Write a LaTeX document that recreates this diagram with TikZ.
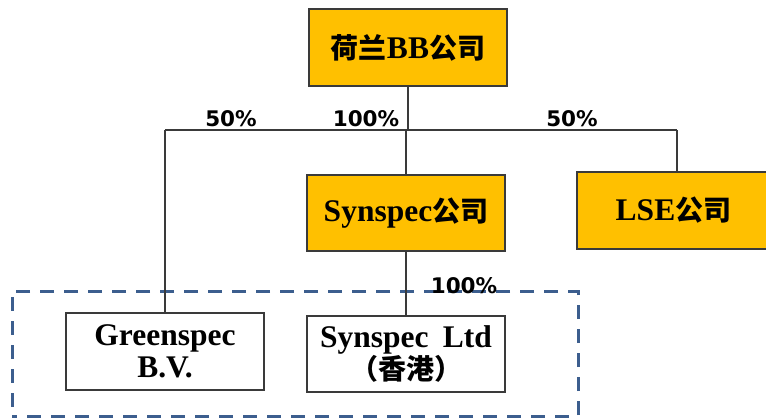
\documentclass[tikz,border=0pt]{standalone}
\usepackage{fontspec}
\setmainfont{Liberation Serif}
\newfontfamily\cjk{Noto Sans CJK SC}
\newfontfamily\pctfont{DejaVu Sans}
\definecolor{gold}{HTML}{FFC000}
\definecolor{dashblue}{HTML}{3C5E8E}
\definecolor{linegray}{HTML}{3A3A3A}
\newcommand{\zh}[1]{{\cjk\fontsize{28}{32}\selectfont #1}}
\begin{document}
\begin{tikzpicture}[x=1pt,y=-1pt,
  org/.style={draw=linegray, line width=1.2pt, minimum width=198pt, minimum height=77pt, inner sep=0pt, align=center, font=\fontsize{31.5}{32}\selectfont\bfseries},
  goldbox/.style={org, fill=gold},
  whitebox/.style={org, fill=white},
  link/.style={draw=linegray, line width=1.2pt},
  grpbox/.style={draw=dashblue, line width=3pt, dash pattern=on 14pt off 10pt, dash phase=9pt, minimum width=566pt, minimum height=125pt, inner sep=0pt},
  pct/.style={font=\pctfont\bfseries\fontsize{21.5}{24}\selectfont, inner sep=0pt, anchor=base}]
\useasboundingbox (0,0) rectangle (766,418);
\node[grpbox] (grp) at (295,353.5) {};
\node[goldbox] (bb) at (408,47.5) {\zh{荷兰}BB\zh{公司}};
\node[goldbox, minimum height=76pt] (syn) at (406,213) {Synspec\zh{公司}};
\node[goldbox, minimum width=193pt] (lse) at (673.5,210.5) {LSE\zh{公司}};
\node[whitebox] (green) at (165,351.5) {Greenspec\\B.V.};
\node[whitebox, minimum height=76pt] (synltd) at (406,354) {Synspec\hspace{0.45em}Ltd\\\zh{（香港）}};
\coordinate (j) at (408,130);
\coordinate (jl) at (165,130);
\coordinate (jr) at (677,130);
\draw[link] (bb.south) -- (j);
\draw[link] (jl) -- (jr);
\draw[link] (jl) -- (green.north);
\draw[link] (jr) -- (jr |- lse.north);
\draw[link] (syn.north |- j) -- (syn.north);
\draw[link] (syn.south) -- (synltd.north);
\node[pct] (p1) at (231,126.5) {50\%};
\node[pct] (p2) at (366,126.5) {100\%};
\node[pct] (p3) at (572,126.5) {50\%};
\node[pct] (p4) at (464,293) {100\%};
\end{tikzpicture}
\end{document}
